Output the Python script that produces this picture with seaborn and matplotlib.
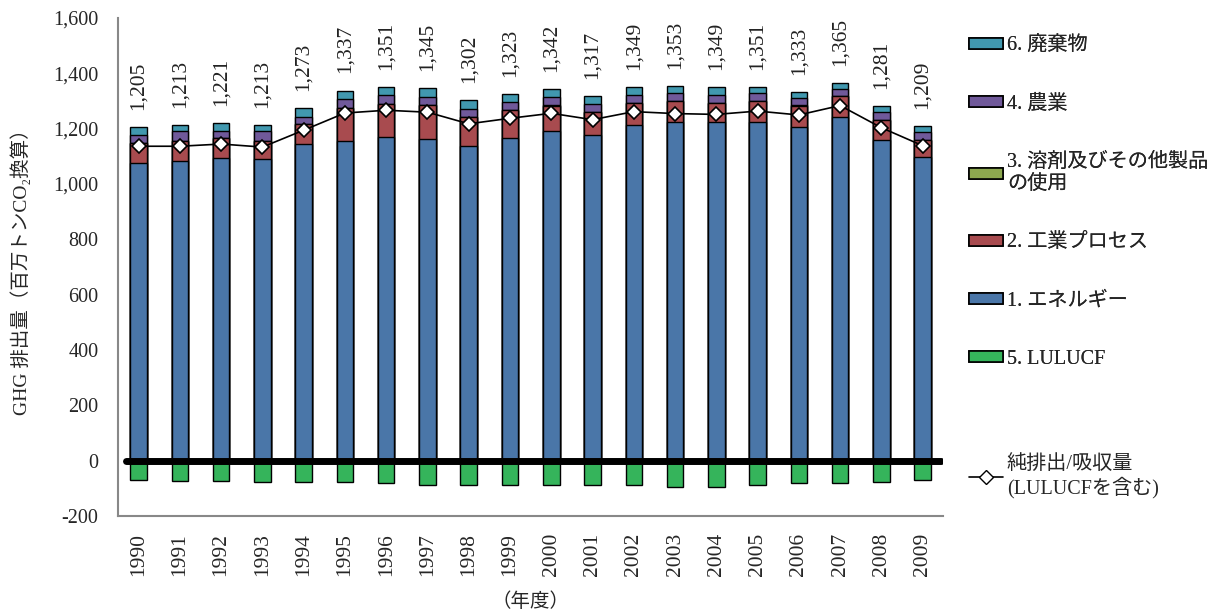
import numpy as np
import pandas as pd
import seaborn as sns
import matplotlib.pyplot as plt
from matplotlib.patches import Patch
from matplotlib.lines import Line2D
from matplotlib.ticker import FuncFormatter, FixedLocator

# data (Mt CO2 eq.)
years = [str(y) for y in range(1990, 2010)]
energy = [1077, 1083, 1093, 1089, 1144, 1154, 1168, 1161, 1136, 1167,
          1190, 1177, 1214, 1223, 1222, 1222, 1204, 1242, 1160, 1098]
industry = [69, 71, 72, 67, 71, 120, 120, 123, 106, 99,
            93, 84, 78, 76, 70, 77, 79, 75, 70, 61]
solvent = [0.5, 0.4, 0.4, 0.4, 0.4, 0.3, 0.3, 0.3, 0.3, 0.3,
           0.3, 0.3, 0.3, 0.3, 0.3, 0.3, 0.3, 0.3, 0.3, 0.3]
agriculture = [29, 35, 26, 33, 27, 34, 32, 30, 29, 28,
               30, 28, 30, 28, 30, 28, 26, 25, 28, 27]
waste = [29, 24, 30, 24, 31, 29, 31, 31, 31, 29,
         29, 28, 27, 26, 27, 24, 24, 23, 23, 23]
lulucf = [-69, -74, -74, -78, -78, -78, -82, -87, -87, -87,
          -86, -86, -86, -95, -95, -86, -82, -82, -78, -70]
net = [1136, 1136, 1144, 1133, 1194, 1256, 1266, 1259, 1217, 1237,
       1255, 1232, 1261, 1254, 1251, 1263, 1249, 1283, 1203, 1138]
totals = [1205, 1213, 1221, 1213, 1273, 1337, 1351, 1345, 1302, 1323,
          1342, 1317, 1349, 1353, 1349, 1351, 1333, 1365, 1281, 1209]

labels = ["6. 廃棄物", "4. 農業", "3. 溶剤及びその他製品\nの使用",
          "2. 工業プロセス", "1. エネルギー", "5. LULUCF"]
colors = ["#4198AF", "#70599A", "#8DA84F", "#A84B4F", "#4A76A8", "#35B45B"]
net_label = "純排出/吸収量\n(LULUCFを含む)"

df = pd.DataFrame({"year": years, "energy": energy, "industry": industry,
                   "solvent": solvent, "agriculture": agriculture,
                   "waste": waste, "lulucf": lulucf})
# cumulative tops for overlapping stacked bars
df["c_energy"] = df["energy"]
df["c_industry"] = df["c_energy"] + df["industry"]
df["c_solvent"] = df["c_industry"] + df["solvent"]
df["c_agriculture"] = df["c_solvent"] + df["agriculture"]
df["c_waste"] = df["c_agriculture"] + df["waste"]

sns.set_style("white")
plt.rcParams["font.family"] = ["Liberation Serif", "Noto Sans CJK JP"]

fig = plt.figure(figsize=(12.14, 6.13), dpi=100)
ax = fig.add_axes([0.0972, 0.158, 0.6798, 0.813])

stack_cols = ["c_waste", "c_agriculture", "c_solvent", "c_industry", "c_energy"]
for col, c in zip(stack_cols, colors[:5]):
    sns.barplot(data=df, x="year", y=col, color=c, width=0.4, saturation=1,
                edgecolor="black", linewidth=1.0, ax=ax, zorder=2)
sns.barplot(data=df, x="year", y="lulucf", color=colors[5], width=0.4, saturation=1,
            edgecolor="black", linewidth=1.0, ax=ax, zorder=2)

# net emissions line
sns.lineplot(x=np.arange(len(years)), y=net, color="black", linewidth=1.2,
             marker="D", markersize=7.5, markerfacecolor="white",
             markeredgecolor="black", markeredgewidth=1.2, ax=ax, zorder=5)

# zero line
ax.axhline(0, xmin=0.01, xmax=0.997, color="black", linewidth=5, zorder=4)

# total labels
for i, t in enumerate(totals):
    ax.text(i, t + 62, f"{t:,}", rotation=90, ha="center", va="bottom",
            fontsize=15.5, color="#222222")

# axes formatting
ax.set_xlim(-0.5, len(years) - 0.5)
ax.set_ylim(-200, 1600)
ax.set_yticks(np.arange(-200, 1601, 200))
ax.yaxis.set_major_formatter(FuncFormatter(lambda v, p: f"{v:,.0f}"))
ax.set_xticks(np.arange(len(years)))
ax.set_xticklabels(years, rotation=90)
ax.xaxis.set_minor_locator(FixedLocator(np.arange(-0.5, len(years), 1)))
ax.tick_params(axis="x", which="major", length=0, pad=12, labelsize=15.5)
ax.tick_params(axis="x", which="minor", length=6, color="#888888", width=1.2,
               direction="out")
ax.tick_params(axis="y", length=6, color="#888888", width=1.2, direction="out",
               labelsize=14.5, pad=8)
for s in ["top", "right"]:
    ax.spines[s].set_visible(False)
for s in ["left", "bottom"]:
    ax.spines[s].set_color("#888888")
    ax.spines[s].set_linewidth(1.5)
ax.set_xlabel("（年度）", fontsize=14, labelpad=12)
ax.set_ylabel("GHG 排出量（百万トンCO₂換算）", fontsize=14, labelpad=16)

# legends
handles = [Patch(facecolor=c, edgecolor="black", linewidth=1.2) for c in colors]
leg1 = fig.legend(handles, labels, loc="upper left",
                  bbox_to_anchor=(0.783, 0.97), frameon=False, fontsize=14.5,
                  handlelength=1.7, handleheight=0.45, handletextpad=0.2,
                  labelspacing=1.95)
fig.add_artist(leg1)
line_handle = Line2D([], [], color="black", linewidth=1.2, marker="D",
                     markersize=7, markerfacecolor="white", markeredgecolor="black")
fig.legend([line_handle], [net_label], loc="upper left",
           bbox_to_anchor=(0.783, 0.288), frameon=False, fontsize=14.5,
           handlelength=1.7, handletextpad=0.2)

plt.savefig("out.png", dpi=100)
